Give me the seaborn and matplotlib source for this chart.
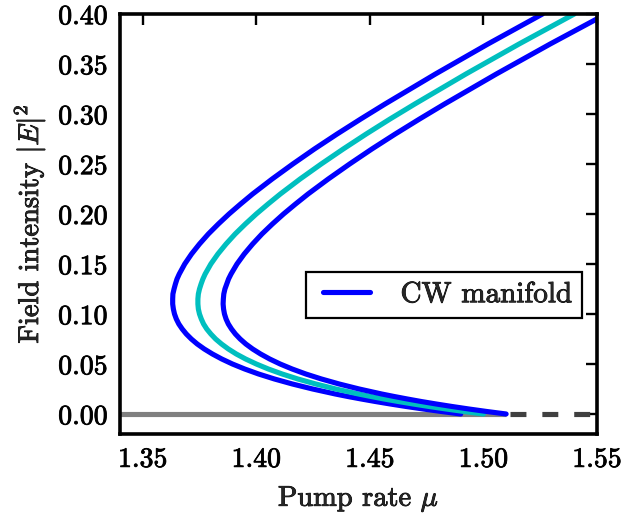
import numpy as np
import pandas as pd
import matplotlib
matplotlib.use("Agg")
import matplotlib.pyplot as plt
import matplotlib.patheffects as pe
import seaborn as sns
from matplotlib.legend_handler import HandlerLine2D
from matplotlib.ticker import FixedLocator, FormatStrFormatter

# Field intensity |E|^2 along the CW branches
intensity = [0.0, 0.0025, 0.005, 0.0075, 0.01, 0.0125, 0.015, 0.0175, 0.02, 0.025,
             0.03, 0.035, 0.04, 0.045, 0.05, 0.055, 0.06, 0.065, 0.07, 0.075,
             0.08, 0.085, 0.09, 0.095, 0.10, 0.105, 0.11, 0.115, 0.12, 0.125,
             0.13, 0.135, 0.14, 0.15, 0.16, 0.17, 0.18, 0.19, 0.20, 0.21,
             0.22, 0.235, 0.25, 0.265, 0.28, 0.295, 0.31, 0.34, 0.37, 0.40]

# Pump rate on each CW branch (lower loss, nominal, higher loss)
pump_low = [1.4900, 1.4815, 1.4735, 1.4660, 1.4590, 1.4524, 1.4462, 1.4403, 1.4348, 1.4248,
            1.4159, 1.4080, 1.4010, 1.3949, 1.3895, 1.3848, 1.3807, 1.3771, 1.3740, 1.3714,
            1.3692, 1.3674, 1.3659, 1.3648, 1.3640, 1.3635, 1.3632, 1.3632, 1.3633, 1.3638,
            1.3644, 1.3651, 1.3661, 1.3685, 1.3715, 1.3750, 1.3789, 1.3833, 1.3880, 1.3931,
            1.3984, 1.4070, 1.4161, 1.4256, 1.4356, 1.4460, 1.4567, 1.4789, 1.5020, 1.5260]
pump_mid = [1.5000, 1.4915, 1.4836, 1.4761, 1.4691, 1.4625, 1.4563, 1.4505, 1.4450, 1.4350,
            1.4262, 1.4183, 1.4114, 1.4053, 1.4000, 1.3953, 1.3912, 1.3877, 1.3847, 1.3821,
            1.3800, 1.3782, 1.3768, 1.3758, 1.3750, 1.3745, 1.3743, 1.3743, 1.3745, 1.3750,
            1.3757, 1.3765, 1.3775, 1.3800, 1.3831, 1.3867, 1.3907, 1.3952, 1.4000, 1.4052,
            1.4106, 1.4193, 1.4286, 1.4383, 1.4484, 1.4589, 1.4698, 1.4923, 1.5157, 1.5400]
pump_high = [1.5100, 1.5015, 1.4936, 1.4862, 1.4792, 1.4726, 1.4665, 1.4607, 1.4552, 1.4453,
             1.4365, 1.4287, 1.4218, 1.4158, 1.4105, 1.4059, 1.4019, 1.3984, 1.3954, 1.3929,
             1.3908, 1.3891, 1.3877, 1.3867, 1.3860, 1.3856, 1.3854, 1.3855, 1.3857, 1.3862,
             1.3870, 1.3878, 1.3889, 1.3915, 1.3947, 1.3984, 1.4025, 1.4071, 1.4120, 1.4173,
             1.4228, 1.4317, 1.4411, 1.4509, 1.4612, 1.4719, 1.4829, 1.5057, 1.5294, 1.5540]

# Off state: stable up to threshold, unstable beyond
off_stable_x = [1.34, 1.51]
off_unstable_x = [1.5115, 1.55]
off_y = [0.0, 0.0]

xticks = [1.35, 1.40, 1.45, 1.50, 1.55]
yticks = [0.00, 0.05, 0.10, 0.15, 0.20, 0.25, 0.30, 0.35, 0.40]

sns.set_style("white")
plt.rcParams.update({
    "font.family": ["cmr10", "DejaVu Serif"],
    "mathtext.fontset": "cm",
    "axes.unicode_minus": False,
    "axes.linewidth": 2.6,
    "axes.edgecolor": "black",
    "xtick.direction": "in",
    "ytick.direction": "in",
    "xtick.major.size": 8,
    "ytick.major.size": 8,
    "xtick.major.width": 1.7,
    "ytick.major.width": 1.7,
    "xtick.major.pad": 9,
    "ytick.major.pad": 9,
    "xtick.top": True,
    "ytick.right": True,
    "xtick.color": "black",
    "ytick.color": "black",
})

# slightly heavier strokes for the Computer Modern text
ink = [pe.withStroke(linewidth=0.6, foreground="black")]

fig = plt.figure(figsize=(6.22, 5.20), dpi=100)
ax = fig.add_axes([0.1929, 0.1654, 0.7669, 0.8077])

lw = 3.7
ax.plot(off_stable_x, off_y, color="0.5", lw=lw, solid_capstyle="butt", zorder=1)
ax.plot(off_unstable_x, off_y, color="0.25", lw=lw, dashes=(3.1, 3.1), zorder=1)

branches = pd.DataFrame({
    "intensity": intensity * 3,
    "pump": pump_low + pump_mid + pump_high,
    "branch": ["low"] * len(intensity) + ["mid"] * len(intensity) + ["high"] * len(intensity),
})
colors = {"low": "#0000ff", "mid": "#00bfbf", "high": "#0000ff"}
for name in ["low", "mid", "high"]:
    sub = branches[branches["branch"] == name]
    sns.lineplot(data=sub, x="pump", y="intensity", sort=False, estimator=None,
                 color=colors[name], lw=lw, ax=ax, zorder=2,
                 label="CW manifold" if name == "low" else None)

ax.set_xlim(1.34, 1.55)
ax.set_ylim(-0.02, 0.40)
ax.xaxis.set_major_locator(FixedLocator(xticks))
ax.yaxis.set_major_locator(FixedLocator(yticks))
ax.xaxis.set_major_formatter(FormatStrFormatter("%.2f"))
ax.yaxis.set_major_formatter(FormatStrFormatter("%.2f"))
ax.tick_params(labelsize=20)
for t in ax.get_xticklabels() + ax.get_yticklabels():
    t.set_path_effects(ink)

ax.set_xlabel(r"Pump rate $\mu$", fontsize=20.5, labelpad=8, path_effects=ink)
ax.set_ylabel(r"Field intensity $|E|^2$", fontsize=20.5, labelpad=8, path_effects=ink)

line_handle = ax.get_lines()[2]
leg = ax.legend(handles=[line_handle], labels=["CW manifold"],
                handler_map={line_handle: HandlerLine2D(xpad=0.25)},
                loc="center right", bbox_to_anchor=(0.969, 0.331), borderaxespad=0,
                fontsize=21, frameon=True, fancybox=False, framealpha=1,
                edgecolor="black", handlelength=1.85, handletextpad=1.05,
                borderpad=0.35)
leg.get_frame().set_linewidth(1.6)
for t in leg.get_texts():
    t.set_path_effects(ink)

fig.savefig("out.png", dpi=100)
